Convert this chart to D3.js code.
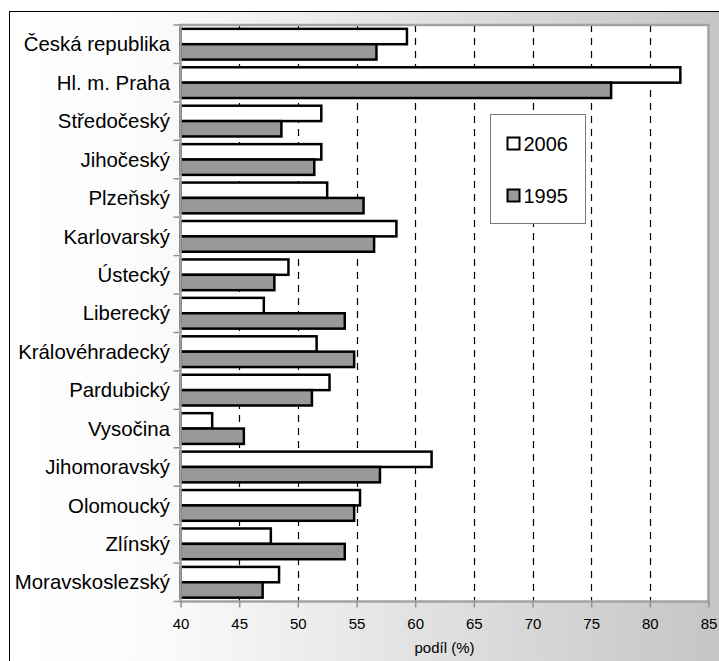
<!DOCTYPE html>
<html>
<head>
<meta charset="utf-8">
<script src="https://cdn.jsdelivr.net/npm/d3@7"></script>
<style>
  body { margin: 0; background: #fff; }
  svg { display: block; font-family: "Liberation Sans", Arial, sans-serif; }
</style>
</head>
<body>
<div id="chart"></div>
<script>
// data
const regions = ["Česká republika", "Hl. m. Praha", "Středočeský", "Jihočeský", "Plzeňský",
    "Karlovarský", "Ústecký", "Liberecký", "Královéhradecký", "Pardubický", "Vysočina",
    "Jihomoravský", "Olomoucký", "Zlínský", "Moravskoslezský"];
const values2006 = [59.3, 82.6, 52.0, 52.0, 52.5, 58.4, 49.2, 47.1, 51.6, 52.7, 42.7, 61.4, 55.3, 47.7, 48.4];
const values1995 = [56.7, 76.7, 48.6, 51.4, 55.6, 56.5, 48.0, 54.0, 54.8, 51.2, 45.4, 57.0, 54.8, 54.0, 47.0];
const seriesNames = ["2006", "1995"];
const xTicks = [40, 45, 50, 55, 60, 65, 70, 75, 80, 85];
const xTitle = "podíl (%)";

const width = 719, height = 661;
const plot = {left: 180.5, right: 708.5, top: 25, bottom: 601.5};
const fills = {"2006": "#ffffff", "1995": "#999999"};

const svg = d3.select("#chart").append("svg")
    .attr("width", width)
    .attr("height", height);

// background gradient
const grad = svg.append("defs").append("linearGradient")
    .attr("id", "bg").attr("x1", "0%").attr("x2", "100%").attr("y1", "0%").attr("y2", "0%");
grad.append("stop").attr("offset", "0%").attr("stop-color", "#ffffff");
grad.append("stop").attr("offset", "20%").attr("stop-color", "#fbfbfb");
grad.append("stop").attr("offset", "100%").attr("stop-color", "#c2c2c2");

svg.append("rect")
    .attr("x", 9.5).attr("y", 11.5)
    .attr("width", width + 20).attr("height", height + 20)
    .attr("fill", "url(#bg)")
    .attr("stroke", "#000").attr("stroke-width", 1);

// plot area
svg.append("rect")
    .attr("x", plot.left).attr("y", plot.top)
    .attr("width", plot.right - plot.left).attr("height", plot.bottom - plot.top)
    .attr("fill", "#fff");

const x = d3.scaleLinear().domain([40, 85]).range([plot.left, plot.right]);
const y = d3.scaleBand().domain(regions).range([plot.top, plot.bottom])
    .paddingInner(0.2).paddingOuter(0.1);
const ySub = d3.scaleBand().domain(seriesNames).range([0, y.bandwidth()]);

// dashed grid
svg.append("g").selectAll("line")
    .data(xTicks.filter(d => d > 40 && d < 85))
    .join("line")
    .attr("x1", d => Math.round(x(d)) + 0.5).attr("x2", d => Math.round(x(d)) + 0.5)
    .attr("y1", plot.top).attr("y2", plot.bottom)
    .attr("stroke", "#000").attr("stroke-width", 1.2)
    .attr("stroke-dasharray", "7,6");

// bars
const rows = regions.map((r, i) => ({region: r, "2006": values2006[i], "1995": values1995[i]}));
const groups = svg.append("g").selectAll("g")
    .data(rows)
    .join("g")
    .attr("transform", d => `translate(0,${y(d.region)})`);

groups.selectAll("rect")
    .data(d => seriesNames.map(s => ({key: s, value: d[s]})))
    .join("rect")
    .attr("x", x(40))
    .attr("y", d => ySub(d.key))
    .attr("width", d => x(d.value) - x(40))
    .attr("height", ySub.bandwidth())
    .attr("fill", d => fills[d.key])
    .attr("stroke", "#000")
    .attr("stroke-width", 2.5);

// plot frame
svg.append("rect")
    .attr("x", plot.left).attr("y", plot.top)
    .attr("width", plot.right - plot.left).attr("height", plot.bottom - plot.top)
    .attr("fill", "none")
    .attr("stroke", "#a3a3a3").attr("stroke-width", 2.5);

// category axis ticks (between bands)
const step = y.step();
svg.append("g").selectAll("line")
    .data(d3.range(regions.length + 1))
    .join("line")
    .attr("x1", plot.left - 7).attr("x2", plot.left)
    .attr("y1", i => plot.top + i * step).attr("y2", i => plot.top + i * step)
    .attr("stroke", "#909090").attr("stroke-width", 1.5);

svg.append("g").selectAll("text")
    .data(regions)
    .join("text")
    .attr("x", 170)
    .attr("y", d => y(d) + y.bandwidth() / 2)
    .attr("dy", "0.35em")
    .attr("text-anchor", "end")
    .attr("font-size", 20.4)
    .attr("fill", "#000")
    .text(d => d);

// value axis
const xAxis = svg.append("g")
    .attr("transform", `translate(0,${plot.bottom})`)
    .call(d3.axisBottom(x).tickValues(xTicks).tickSize(6).tickPadding(11));
xAxis.select(".domain").remove();
xAxis.selectAll(".tick line").attr("stroke", "#909090").attr("stroke-width", 1.5);
xAxis.selectAll(".tick text")
    .attr("font-size", 15)
    .attr("font-family", "\"Liberation Sans\", Arial, sans-serif")
    .attr("fill", "#000");

svg.append("text")
    .attr("x", (plot.left + plot.right) / 2)
    .attr("y", 653)
    .attr("text-anchor", "middle")
    .attr("font-size", 15)
    .text(xTitle);

// legend
const legend = svg.append("g").attr("transform", "translate(490.5,114.5)");
legend.append("rect")
    .attr("width", 95).attr("height", 109)
    .attr("fill", "#fff")
    .attr("stroke", "#7a7a7a").attr("stroke-width", 1);
const items = legend.selectAll("g.item")
    .data(seriesNames)
    .join("g")
    .attr("class", "item")
    .attr("transform", (d, i) => `translate(0,${29 + i * 52})`);
items.append("rect")
    .attr("x", 17).attr("y", -6)
    .attr("width", 12).attr("height", 12)
    .attr("fill", d => fills[d])
    .attr("stroke", "#000").attr("stroke-width", 2);
items.append("text")
    .attr("x", 33).attr("dy", "0.35em")
    .attr("font-size", 20)
    .text(d => d);
</script>
</body>
</html>
